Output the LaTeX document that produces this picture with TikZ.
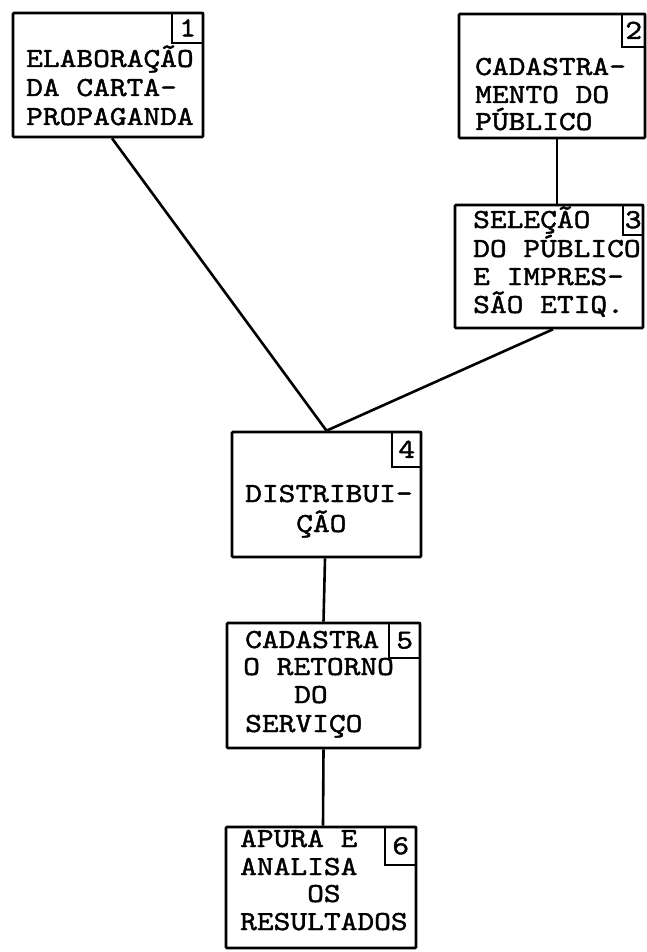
\documentclass[tikz,border=0pt]{standalone}
\usepackage{fontspec}
\newfontfamily\tw{lmmono10-regular.otf}[FakeStretch=1.16,FakeBold=1.5]
\newcommand{\twfont}{\tw\fontsize{27.5}{27.5}\selectfont}
\begin{document}
\begin{tikzpicture}[x=1pt,y=-1pt,
  box/.style={draw, line width=2.6pt, inner sep=0pt, rounded corners=1pt},
  numbox/.style={draw, line width=2.2pt, inner sep=0pt, anchor=north east, font=\twfont},
  txt/.style={anchor=base west, inner sep=0pt, font=\twfont},
  conn/.style={line width=2.6pt}]
\useasboundingbox (0,0) rectangle (647,952);
% boxes
\node[box, minimum width=190pt, minimum height=124pt] (b1) at (108,75) {};
\node[box, minimum width=186pt, minimum height=124pt] (b2) at (552,76) {};
\node[box, minimum width=188pt, minimum height=123pt] (b3) at (549,266.5) {};
\node[box, minimum width=189pt, minimum height=125pt] (b4) at (326.5,494.5) {};
\node[box, minimum width=193pt, minimum height=125pt] (b5) at (323.5,685.5) {};
\node[box, minimum width=190pt, minimum height=121pt] (b6) at (321,887.5) {};
% number boxes
\node[numbox, minimum width=31pt, minimum height=30pt] (n1) at (b1.north east) {1};
\node[numbox, minimum width=23pt, minimum height=33pt] (n2) at (b2.north east) {2};
\node[numbox, minimum width=20pt, minimum height=30pt] (n3) at (b3.north east) {3};
\node[numbox, minimum width=29pt, minimum height=35pt] (n4) at (b4.north east) {4};
\node[numbox, minimum width=31pt, minimum height=35pt] (n5) at (b5.north east) {5};
\node[numbox, minimum width=31pt, minimum height=38pt] (n6) at (b6.north east) {6};
% texts
\node[txt] (t1a) at (26,67) {ELABORAÇÃO};
\node[txt] (t1b) at (26,96) {DA CARTA-};
\node[txt] (t1c) at (26,125) {PROPAGANDA};
\node[txt] (t2a) at (475,75) {CADASTRA-};
\node[txt] (t2b) at (475,103) {MENTO DO};
\node[txt] (t2c) at (475,130) {PÚBLICO};
\node[txt] (t3a) at (473,228) {SELEÇÃO};
\node[txt] (t3b) at (473,257) {DO PÚBLICO};
\node[txt] (t3c) at (473,285) {E IMPRES-};
\node[txt] (t3d) at (473,313) {SÃO ETIQ.};
\node[txt] (t4a) at (245,502) {DISTRIBUI-};
\node[txt] (t4b) at (296,532) {ÇÃO};
\node[txt] (t5a) at (245,648) {CADASTRA};
\node[txt] (t5b) at (243,675) {O RETORNO};
\node[txt] (t5c) at (294,703) {DO};
\node[txt] (t5d) at (245,732) {SERVIÇO};
\node[txt] (t6a) at (240,847) {APURA E};
\node[txt] (t6b) at (240,875) {ANALISA};
\node[txt] (t6c) at (307,902) {OS};
\node[txt] (t6d) at (240,930) {RESULTADOS};
% connectors
\draw[conn] ([xshift=4pt]b1.south) -- (b4.north);
\draw[conn] ([xshift=5pt]b2.south) -- ([xshift=8pt]b3.north);
\draw[conn] ([xshift=4pt]b3.south) -- (b4.north);
\draw[conn] ([xshift=-1.5pt]b4.south) -- (b5.north);
\draw[conn] (b5.south) -- ([xshift=2pt]b6.north);
\end{tikzpicture}
\end{document}
